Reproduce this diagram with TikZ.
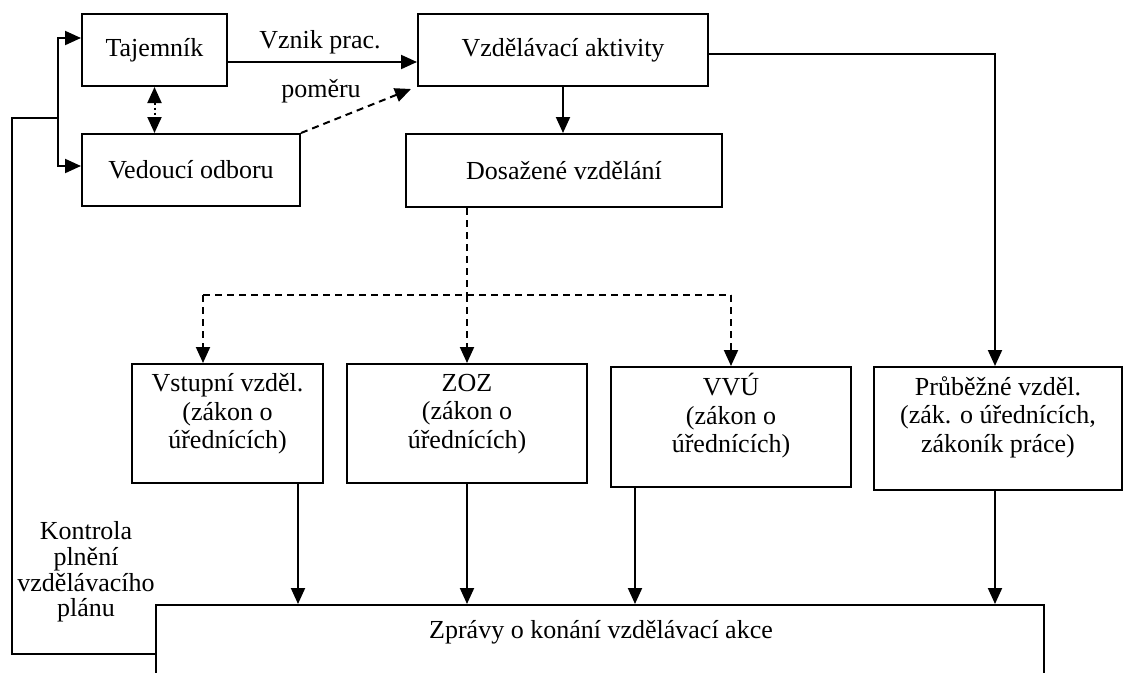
\documentclass[tikz,border=0pt]{standalone}
\usepackage{fontspec}
\setmainfont{Liberation Serif}
\usetikzlibrary{arrows.meta}
\begin{document}
\begin{tikzpicture}[x=1pt,y=-1pt,
  box/.style={draw,line width=2pt,inner sep=0pt,align=center,font=\fontsize{26}{28.5}\selectfont},
  lbl/.style={inner sep=0pt,align=center,font=\fontsize{26}{28.5}\selectfont},
  con/.style={line width=2pt},
  tip/.style={-{Triangle[length=16pt,width=14pt]}},
  arr/.style={con,tip},
  dsh/.style={con,dash pattern=on 7pt off 5pt},
  dotl/.style={con,dash pattern=on 2pt off 3pt}]
\useasboundingbox (0,0) rectangle (1127,672);
\clip (0,0) rectangle (1127,672);
% boxes
\node[box,minimum width=145pt,minimum height=72pt] (taj) at (154.5,50) {Tajemník};
\node[box,minimum width=218pt,minimum height=72pt] (ved) at (191,170) {Vedoucí odboru};
\node[box,minimum width=290pt,minimum height=72pt] (akt) at (563,50) {Vzdělávací aktivity};
\node[box,minimum width=316pt,minimum height=73pt] (dos) at (564,170.5) {Dosažené vzdělání};
\node[box,minimum width=191pt,minimum height=119pt] (vst) at (227.5,423.5) {};
\node[box,minimum width=240pt,minimum height=119pt] (zoz) at (467,423.5) {};
\node[box,minimum width=240pt,minimum height=120pt] (vvu) at (731,427) {};
\node[box,minimum width=248pt,minimum height=123pt] (prub) at (998,428.5) {};
\node[box,anchor=north west,minimum width=888pt,minimum height=120pt] (zpr) at (155,604) {};
% box texts
\node[lbl] (vstt) at (227.5,414) {Vstupní vzděl.\\(zákon o\\úřednících)};
\node[lbl] (zozt) at (467,414) {ZOZ\\(zákon o\\úřednících)};
\node[lbl] (vvut) at (731,416) {VVÚ\\(zákon o\\úřednících)};
\node[lbl] (prubt) at (998,417) {Průběžné vzděl.\\(zák. o úřednících,\\zákoník práce)};
\node[lbl] (zprt) at (601,632) {Zprávy o konání vzdělávací akce};
% labels
\node[lbl] (l1) at (320,42) {Vznik prac.};
\node[lbl] (l2) at (321,91) {poměru};
\node[lbl,font=\fontsize{26}{25.7}\selectfont] (l3) at (86,572) {Kontrola\\plnění\\vzdělávacího\\plánu};
% coordinates
\coordinate (c) at (12,118);
\coordinate (j) at (58,118);
\coordinate (hl) at (203,295);
\coordinate (h) at (467,295);
\coordinate (hr) at (731,295);
\coordinate (dt) at ([xshift=-6pt,yshift=-2pt]akt.south west);
% connectors
\draw[con,line width=1.6pt] ([yshift=-50pt]zpr.north west) -| (c) -- (j);
\draw[arr] (j) |- ([yshift=12pt]taj.west);
\draw[arr] (j) |- ([yshift=4pt]ved.west);
\draw[arr] ([yshift=-12pt]taj.east) -- ([yshift=-12pt]akt.west);
\draw[dotl,{Triangle[length=16pt,width=14pt]}-{Triangle[length=16pt,width=14pt]}] (taj.south) -- (taj.south |- ved.north);
\draw[dsh,tip] (ved.north east) -- (dt);
\draw[arr] (akt.south) -- (akt.south |- dos.north);
\draw[arr] ([yshift=-4pt]akt.east) -| ([xshift=-3pt]prub.north);
\draw[dsh] ([xshift=-97pt]dos.south) -- (h);
\draw[dsh] (hl) -- (hr);
\draw[dsh,tip] (hl) -- (hl |- vst.north);
\draw[dsh,tip] (h) -- (h |- zoz.north);
\draw[dsh,tip] (hr) -- (hr |- vvu.north);
\draw[arr] ([xshift=70.5pt]vst.south) -- ([xshift=70.5pt]vst.south |- zpr.north);
\draw[arr] (zoz.south) -- (zoz.south |- zpr.north);
\draw[arr] ([xshift=-96pt]vvu.south) -- ([xshift=-96pt]vvu.south |- zpr.north);
\draw[arr] ([xshift=-3pt]prub.south) -- ([xshift=-3pt]prub.south |- zpr.north);
\end{tikzpicture}
\end{document}
